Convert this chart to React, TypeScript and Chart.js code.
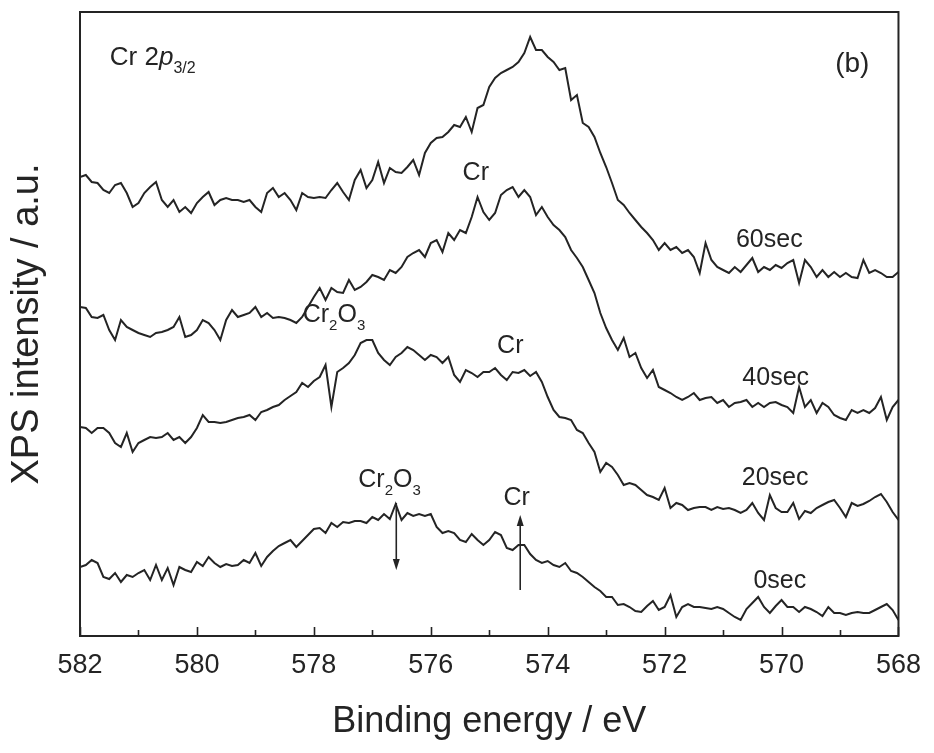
import React, { useEffect, useRef } from 'react';
import { Chart, registerables } from 'chart.js';

Chart.register(...registerables);

// Binding-energy sampling grid (eV), 582.0 -> 568.0 in 0.1 eV steps
const ENERGY: number[] = Array.from({ length: 141 }, (_, i) => Math.round((582 - i * 0.1) * 10) / 10);

// Intensities (a.u.), one value per energy in ENERGY
const S60 = [
  459, 461, 454, 453, 446, 443, 451, 453, 443, 429,
  433, 443, 449, 454, 436, 429, 436, 424, 429, 423,
  433, 439, 444, 431, 436, 438, 436, 436, 434, 436,
  429, 424, 443, 448, 439, 443, 436, 426, 443, 439,
  438, 439, 438, 446, 453, 444, 436, 456, 466, 448,
  456, 474, 453, 468, 464, 463, 469, 476, 461, 483,
  493, 498, 499, 504, 511, 509, 519, 504, 528, 531,
  549, 558, 563, 566, 569, 574, 583, 599, 586, 586,
  579, 574, 566, 568, 536, 541, 513, 509, 499, 483,
  469, 453, 436, 431, 423, 416, 409, 403, 396, 386,
  393, 386, 389, 383, 386, 379, 363, 393, 376, 369,
  366, 363, 369, 364, 371, 378, 364, 369, 366, 371,
  368, 373, 376, 353, 376, 369, 359, 366, 359, 364,
  359, 363, 359, 358, 376, 363, 366, 363, 359, 359,
  364,
];

const S40 = [
  329, 328, 319, 318, 321, 306, 296, 316, 309, 306,
  303, 301, 299, 303, 304, 306, 309, 319, 299, 301,
  306, 316, 313, 306, 296, 316, 326, 319, 321, 323,
  329, 319, 323, 318, 319, 318, 316, 313, 319, 329,
  339, 348, 336, 348, 344, 343, 356, 346, 349, 354,
  361, 359, 356, 366, 363, 369, 379, 383, 386, 379,
  393, 396, 384, 403, 396, 406, 403, 419, 439, 424,
  416, 423, 441, 446, 449, 439, 446, 439, 421, 429,
  419, 411, 406, 399, 386, 378, 369, 356, 343, 323,
  308, 296, 286, 298, 279, 283, 268, 258, 266, 249,
  246, 243, 239, 236, 239, 243, 236, 238, 239, 233,
  236, 229, 233, 234, 236, 229, 233, 229, 233, 234,
  231, 229, 223, 249, 229, 236, 223, 233, 229, 221,
  218, 216, 226, 223, 226, 223, 228, 239, 216, 229,
  236,
];

const S20 = [
  209, 208, 203, 208, 208, 203, 193, 189, 203, 184,
  193, 196, 199, 198, 199, 203, 196, 199, 193, 199,
  208, 221, 214, 214, 213, 214, 216, 218, 219, 221,
  216, 224, 226, 229, 231, 236, 240, 244, 253, 249,
  255, 259, 271, 229, 264, 268, 273, 281, 293, 296,
  296, 283, 276, 271, 279, 283, 289, 286, 281, 276,
  281, 279, 273, 279, 261, 254, 266, 263, 259, 264,
  264, 268, 261, 256, 264, 263, 266, 260, 264, 254,
  239, 226, 219, 218, 216, 206, 203, 193, 184, 164,
  173, 169, 161, 151, 153, 151, 146, 141, 139, 136,
  148, 128, 133, 131, 126, 128, 129, 129, 126, 129,
  127, 128, 126, 123, 126, 133, 123, 116, 141, 128,
  124, 124, 133, 117, 125, 123, 128, 131, 134, 136,
  128, 119, 133, 130, 132, 135, 139, 142, 134, 124,
  116,
];

const S0 = [
  69, 71, 76, 73, 59, 57, 63, 54, 61, 59,
  63, 66, 56, 71, 56, 68, 51, 69, 66, 64,
  74, 70, 79, 73, 69, 72, 70, 71, 76, 73,
  83, 70, 79, 85, 90, 93, 96, 89, 95, 101,
  107, 108, 103, 113, 109, 114, 113, 115, 115, 113,
  119, 116, 122, 117, 132, 116, 123, 120, 122, 120,
  122, 109, 103, 105, 103, 96, 94, 102, 96, 91,
  96, 104, 101, 88, 86, 91, 91, 82, 76, 73,
  75, 71, 69, 73, 65, 63, 59, 54, 49, 45,
  39, 39, 31, 32, 29, 25, 24, 30, 35, 26,
  29, 41, 19, 29, 32, 29, 29, 28, 27, 29,
  27, 23, 19, 16, 27, 33, 39, 29, 23, 30,
  36, 29, 29, 24, 29, 27, 24, 20, 29, 23,
  23, 21, 23, 24, 23, 23, 26, 29, 32, 26,
  16,
];

const SERIES_LABELS = ['60sec', '40sec', '20sec', '0sec'];
const SERIES_VALUES = [S60, S40, S20, S0];

const MAJOR_TICKS = [582, 580, 578, 576, 574, 572, 570, 568];
const MINOR_TICKS = [581, 579, 577, 575, 573, 571, 569];

type Seg = { t: string; sub?: boolean; italic?: boolean };
type Label = { x: number; y: number; align: 'left' | 'center'; size: number; segs: Seg[] };

// Text annotations placed in data coordinates (eV, intensity baseline)
const LABELS: Label[] = [
  { x: 581.49, y: 571, align: 'left', size: 26, segs: [{ t: 'Cr 2' }, { t: 'p', italic: true }, { t: '3/2', sub: true }] },
  { x: 568.79, y: 564, align: 'center', size: 28, segs: [{ t: '(b)' }] },
  { x: 570.21, y: 389, align: 'center', size: 25, segs: [{ t: '60sec' }] },
  { x: 570.1, y: 251, align: 'center', size: 25, segs: [{ t: '40sec' }] },
  { x: 570.11, y: 151, align: 'center', size: 25, segs: [{ t: '20sec' }] },
  { x: 570.03, y: 48, align: 'center', size: 25, segs: [{ t: '0sec' }] },
  { x: 575.23, y: 456, align: 'center', size: 25, segs: [{ t: 'Cr' }] },
  { x: 578.19, y: 314, align: 'left', size: 25, segs: [{ t: 'Cr' }, { t: '2', sub: true }, { t: 'O' }, { t: '3', sub: true }] },
  { x: 574.64, y: 283, align: 'center', size: 25, segs: [{ t: 'Cr' }] },
  { x: 577.24, y: 149, align: 'left', size: 25, segs: [{ t: 'Cr' }, { t: '2', sub: true }, { t: 'O' }, { t: '3', sub: true }] },
  { x: 574.53, y: 131, align: 'center', size: 25, segs: [{ t: 'Cr' }] },
];

// Arrows: x energy, from intensity -> to intensity (head at "to")
const ARROWS = [
  { x: 576.59, from: 133, to: 66 },
  { x: 574.47, from: 46, to: 121 },
];

const FONT = '"Liberation Sans", Arial, Helvetica, sans-serif';
const INK = '#242424';

const decorPlugin = {
  id: 'decor',
  afterDraw(chart: any) {
    const { ctx, chartArea: a, scales } = chart;
    const xs = scales.x;
    const ys = scales.y;
    ctx.save();
    // frame
    ctx.strokeStyle = INK;
    ctx.lineWidth = 2;
    ctx.strokeRect(a.left, a.top, a.right - a.left, a.bottom - a.top);
    // inward ticks on bottom axis
    ctx.lineWidth = 1.6;
    const drawTick = (v: number, len: number) => {
      const px = Math.round(xs.getPixelForValue(v)) + 0.5;
      ctx.beginPath();
      ctx.moveTo(px, a.bottom);
      ctx.lineTo(px, a.bottom - len);
      ctx.stroke();
    };
    MAJOR_TICKS.forEach((v) => drawTick(v, 9));
    MINOR_TICKS.forEach((v) => drawTick(v, 6));

    // labels
    ctx.fillStyle = INK;
    ctx.textBaseline = 'alphabetic';
    ctx.textAlign = 'left';
    for (const lab of LABELS) {
      const subSize = Math.round(lab.size * 0.6);
      const fontFor = (s: Seg) => `${s.italic ? 'italic ' : ''}${s.sub ? subSize : lab.size}px ${FONT}`;
      let total = 0;
      const widths = lab.segs.map((s) => {
        ctx.font = fontFor(s);
        const w = ctx.measureText(s.t).width;
        total += w;
        return w;
      });
      let px = xs.getPixelForValue(lab.x);
      const py = ys.getPixelForValue(lab.y);
      if (lab.align === 'center') px -= total / 2;
      lab.segs.forEach((s, i) => {
        ctx.font = fontFor(s);
        ctx.fillText(s.t, px, py + (s.sub ? lab.size * 0.3 : 0));
        px += widths[i];
      });
    }

    // arrows
    ctx.lineWidth = 1.6;
    for (const ar of ARROWS) {
      const px = xs.getPixelForValue(ar.x);
      const p0 = ys.getPixelForValue(ar.from);
      const p1 = ys.getPixelForValue(ar.to);
      const dir = p1 > p0 ? 1 : -1;
      const headLen = 11;
      ctx.beginPath();
      ctx.moveTo(px, p0);
      ctx.lineTo(px, p1 - dir * headLen);
      ctx.stroke();
      ctx.beginPath();
      ctx.moveTo(px, p1);
      ctx.lineTo(px - 3.5, p1 - dir * headLen);
      ctx.lineTo(px + 3.5, p1 - dir * headLen);
      ctx.closePath();
      ctx.fill();
    }
    ctx.restore();
  },
};

export default function App() {
  const ref = useRef<HTMLCanvasElement>(null);
  useEffect(() => {
    const canvas = ref.current;
    if (!canvas) return;
    const chart = new Chart(canvas, {
      type: 'line',
      data: {
        datasets: SERIES_LABELS.map((label, k) => ({
          label,
          data: ENERGY.map((e, i) => ({ x: e, y: SERIES_VALUES[k][i] })),
          borderColor: INK,
          borderWidth: 2,
          pointRadius: 0,
          tension: 0,
          fill: false,
        })),
      },
      options: {
        responsive: false,
        animation: false,
        devicePixelRatio: 1,
        events: [],
        layout: { padding: { left: 0, top: 12, right: 31, bottom: 0 } },
        plugins: { legend: { display: false }, tooltip: { enabled: false } },
        scales: {
          x: {
            type: 'linear',
            min: 568,
            max: 582,
            reverse: true,
            grid: { display: false, drawTicks: false },
            border: { display: false },
            ticks: {
              stepSize: 2,
              padding: 13,
              color: INK,
              autoSkip: false,
              maxRotation: 0,
              font: { family: FONT, size: 27 },
              callback: (v: any) => String(v),
            },
            title: {
              display: true,
              text: 'Binding energy / eV',
              color: INK,
              font: { family: FONT, size: 36 },
              padding: { top: 0, bottom: 9 },
            },
            afterFit: (s: any) => {
              s.height = 117;
            },
          },
          y: {
            type: 'linear',
            min: 0,
            max: 624,
            grid: { display: false, drawTicks: false },
            border: { display: false },
            ticks: { display: false },
            title: {
              display: true,
              text: 'XPS intensity / a.u.',
              color: INK,
              font: { family: FONT, size: 38 },
              padding: { top: 5, bottom: 0 },
            },
            afterFit: (s: any) => {
              s.width = 80;
            },
          },
        },
      },
      plugins: [decorPlugin],
    } as any);
    return () => chart.destroy();
  }, []);
  return (
    <div style={{ position: 'fixed', left: 0, top: 0, width: 934, height: 753, background: '#fff' }}>
      <canvas ref={ref} width={934} height={753} style={{ display: 'block' }} />
    </div>
  );
}
